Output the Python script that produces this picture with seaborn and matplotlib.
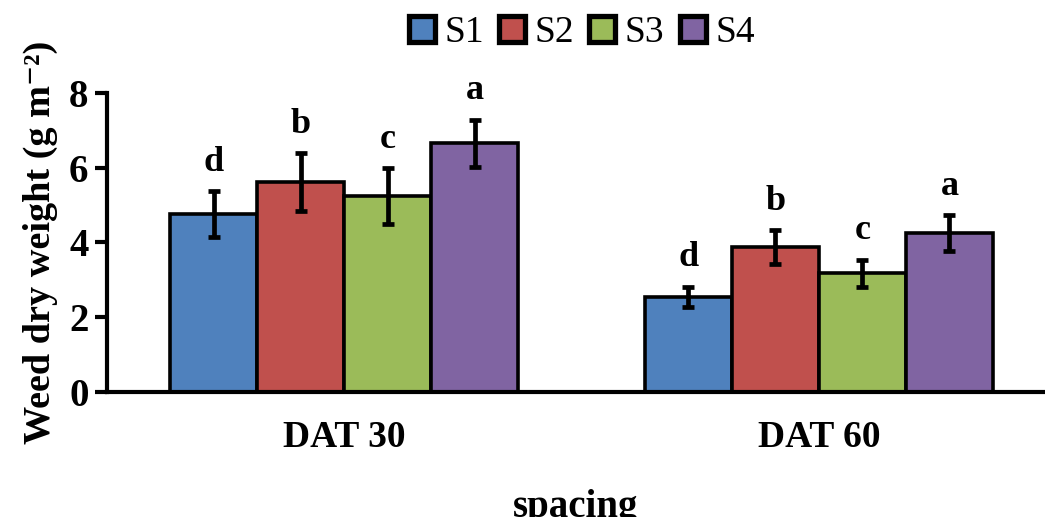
import matplotlib
matplotlib.use("Agg")
import matplotlib.pyplot as plt
from matplotlib.lines import Line2D
import seaborn as sns
import pandas as pd

groups = ["DAT 30", "DAT 60"]
series = ["S1", "S2", "S3", "S4"]
legend_labels = ["S1", "S2", "S3", "S4"]
values = {
    "S1": [4.76, 2.54],
    "S2": [5.62, 3.88],
    "S3": [5.24, 3.18],
    "S4": [6.66, 4.25],
}
errors = {
    "S1": [0.61, 0.27],
    "S2": [0.77, 0.45],
    "S3": [0.75, 0.36],
    "S4": [0.63, 0.48],
}
letters = {
    "S1": ["d", "d"],
    "S2": ["b", "b"],
    "S3": ["c", "c"],
    "S4": ["a", "a"],
}
colors = ["#4F81BD", "#C0504D", "#9BBB59", "#8064A2"]

rows = []
for s in series:
    for gi, g in enumerate(groups):
        rows.append({"group": g, "series": s, "value": values[s][gi],
                     "err": errors[s][gi], "letter": letters[s][gi]})
df = pd.DataFrame(rows)

sns.set_style("white")
plt.rcParams["font.family"] = ["Liberation Serif", "DejaVu Serif"]
plt.rcParams["text.color"] = "black"
plt.rcParams["axes.labelcolor"] = "black"
plt.rcParams["xtick.color"] = "black"
plt.rcParams["ytick.color"] = "black"

fig = plt.figure(figsize=(10.45, 5.17), dpi=100)
ax = fig.add_axes([0.102, 0.242, 0.898, 0.578])

sns.barplot(data=df, x="group", y="value", hue="series", order=groups,
            hue_order=series, palette=colors, width=0.733, errorbar=None,
            edgecolor="black", linewidth=2.6, ax=ax, legend=False, saturation=1)

# error bars and letters from bar patches
for si, s in enumerate(series):
    cont = ax.containers[si]
    for gi, bar in enumerate(cont):
        cx = bar.get_x() + bar.get_width() / 2
        h = bar.get_height()
        e = errors[s][gi]
        ax.errorbar(cx, h, yerr=e, fmt="none", ecolor="black", elinewidth=3.4,
                    capsize=4.5, capthick=3.4, zorder=5)
        ax.annotate(letters[s][gi], (cx, h + e), xytext=(0, 9),
                    textcoords="offset points", ha="center", va="bottom",
                    fontsize=26, fontweight="bold", color="black")

ax.set_ylim(0, 8)
ax.set_yticks([0, 2, 4, 6, 8])
ax.set_xlim(-0.5, 1.476)
for sp in ["top", "right"]:
    ax.spines[sp].set_visible(False)
for sp in ["left", "bottom"]:
    ax.spines[sp].set_linewidth(3)
    ax.spines[sp].set_color("black")
ax.tick_params(axis="y", direction="out", length=9, width=3, labelsize=28,
               left=True, pad=4, colors="black")
ax.tick_params(axis="x", length=0, labelsize=27, pad=20, colors="black")
for lab in ax.get_xticklabels() + ax.get_yticklabels():
    lab.set_fontweight("bold")
ax.set_xlabel("spacing", fontsize=28, fontweight="bold", labelpad=25,
              color="black")
ax.set_ylabel("Weed dry weight (g m\u207b\u00b2)", fontsize=27.5,
              fontweight="bold", labelpad=8, color="black")

handles = [Line2D([], [], marker="s", linestyle="none", markersize=19,
                  markerfacecolor=c, markeredgecolor="black",
                  markeredgewidth=3.8) for c in colors]
fig.legend(handles, legend_labels, loc="center", ncol=4,
           bbox_to_anchor=(0.555, 1 - 33 / 517), frameon=False,
           fontsize=27, handletextpad=0.15, columnspacing=0.3,
           handlelength=0.9, labelcolor="black")

fig.savefig("out.png", dpi=100)
